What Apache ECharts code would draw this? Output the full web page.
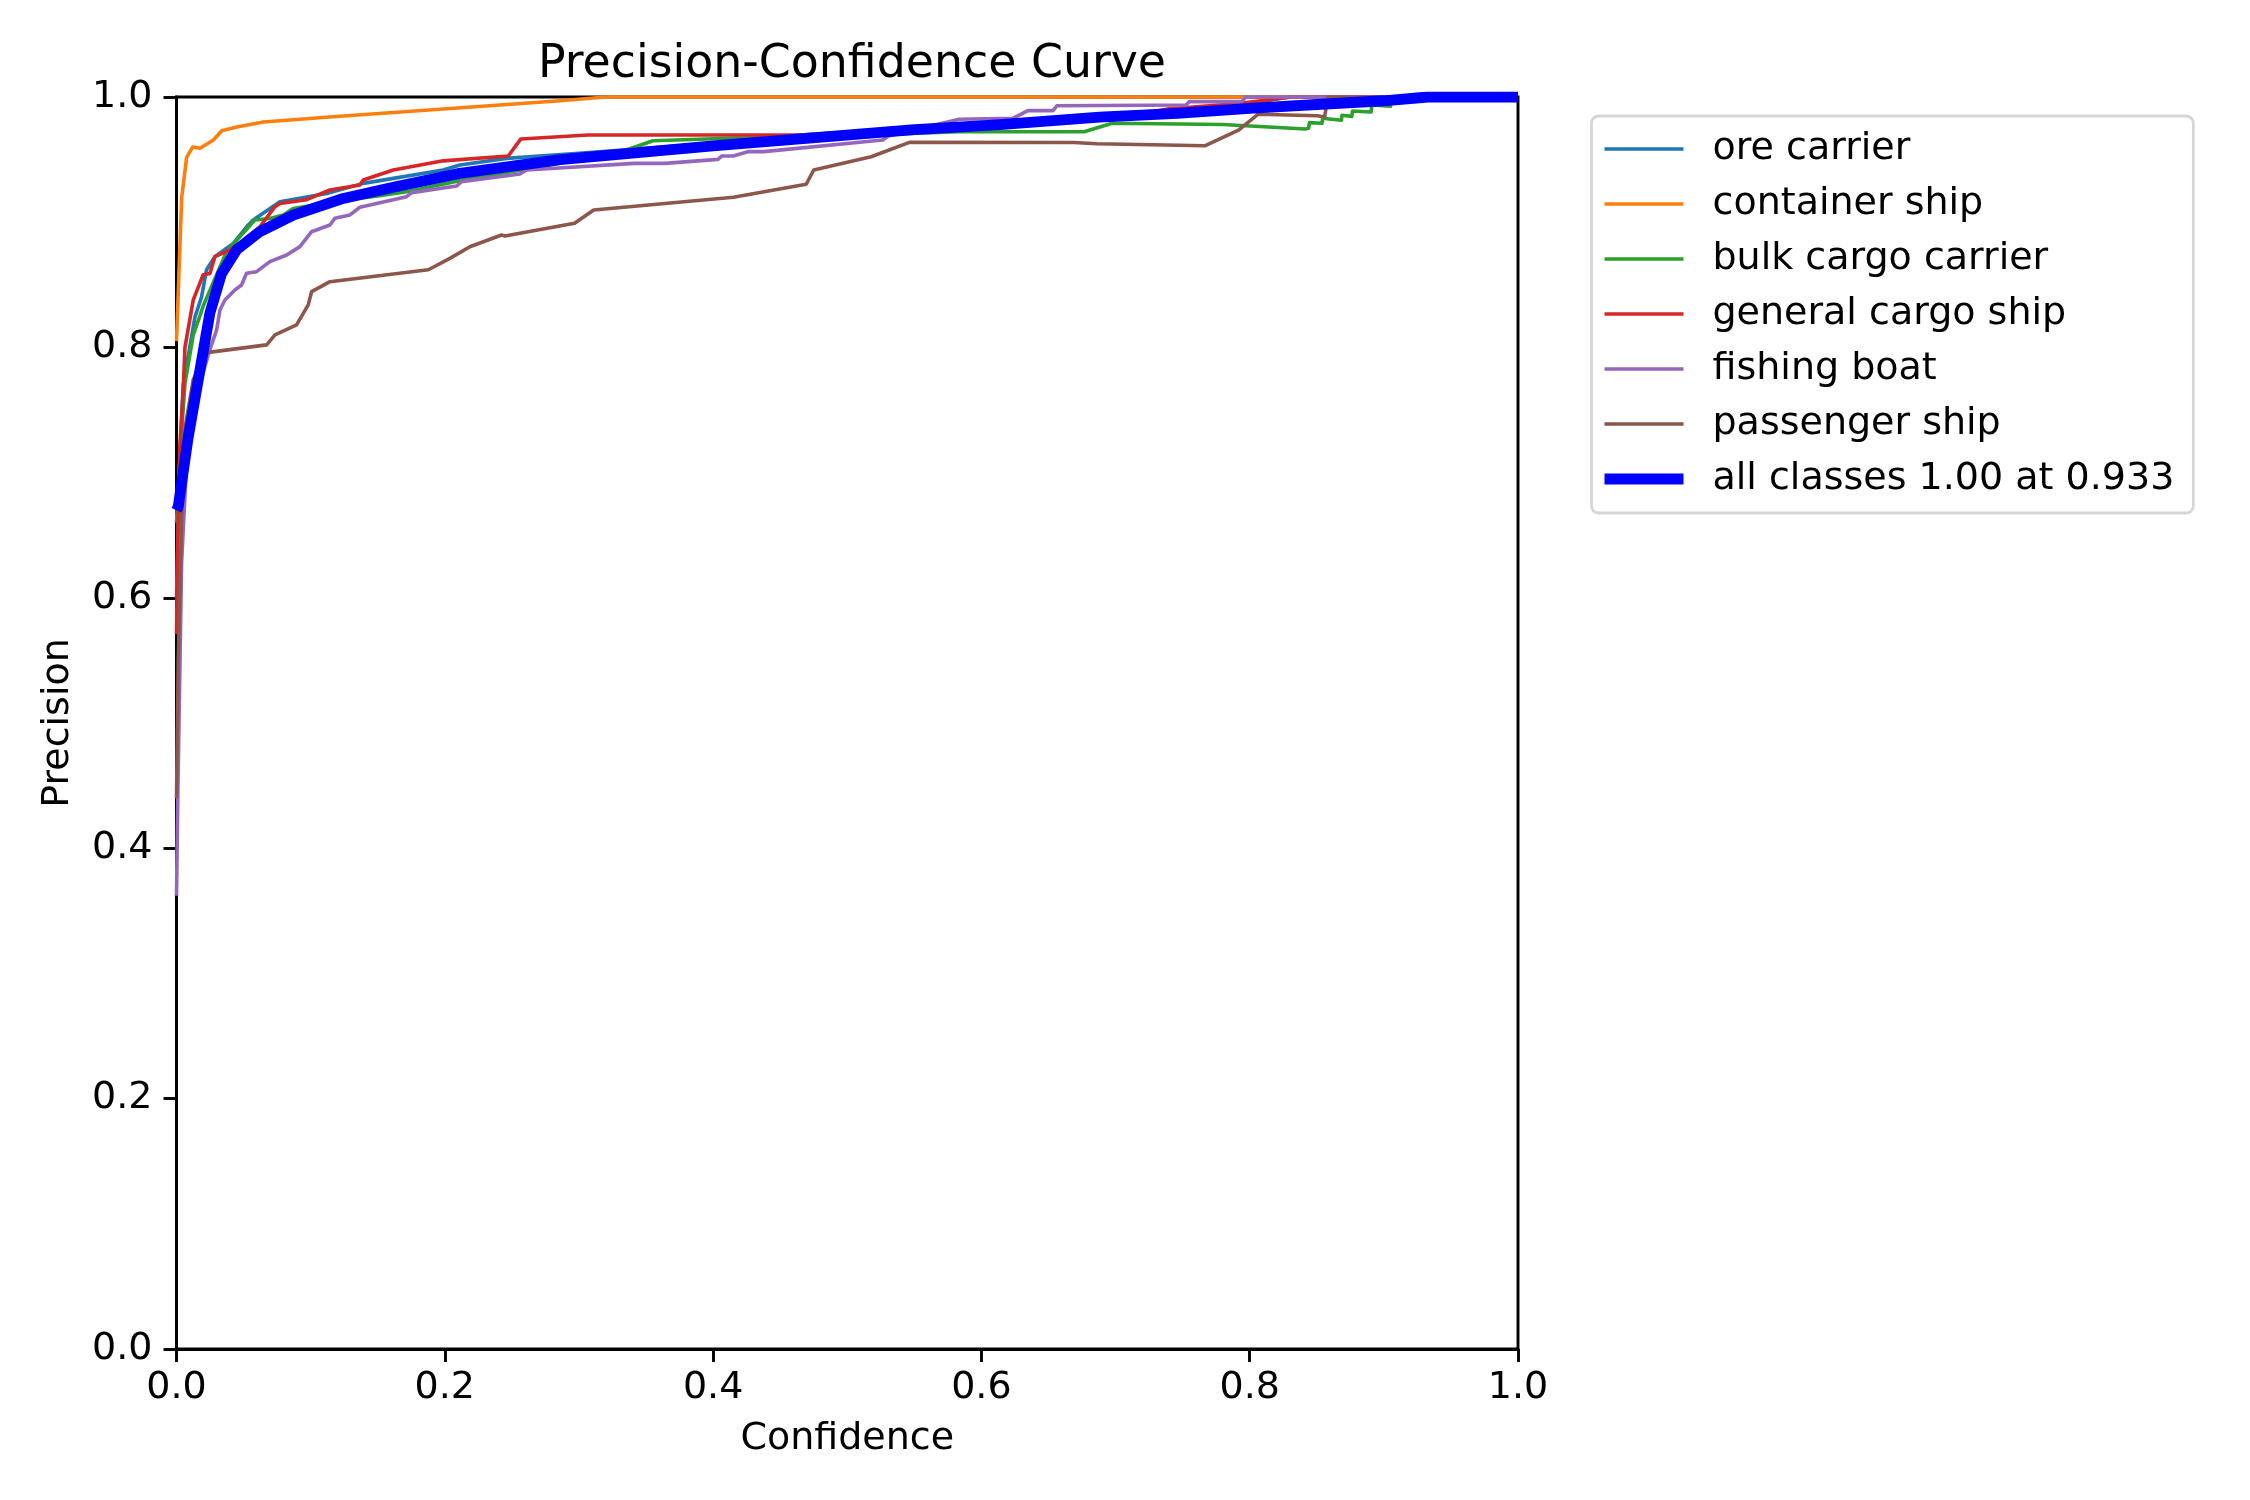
<!DOCTYPE html>
<html>
<head>
<meta charset="utf-8">
<script src="https://cdn.jsdelivr.net/npm/echarts@6/dist/echarts.min.js"></script>
<style>
html,body{margin:0;padding:0;background:#ffffff;}
#chart{width:2250px;height:1500px;}
</style>
</head>
<body>
<div id="chart"></div>
<script>
// ---------------- data ----------------
const chartTitle = 'Precision-Confidence Curve';
const xAxisName = 'Confidence';
const yAxisName = 'Precision';
const tickValues = [0.0, 0.2, 0.4, 0.6, 0.8, 1.0];

const seriesNames = ['ore carrier', 'container ship', 'bulk cargo carrier', 'general cargo ship', 'fishing boat', 'passenger ship', 'all classes 1.00 at 0.933'];

const oreCarrierConf = [0, 0.002, 0.005, 0.0137, 0.0187, 0.0224, 0.0286, 0.0423, 0.0535, 0.0572, 0.0771, 0.1119, 0.1392, 0.1616, 0.1988, 0.2113, 0.246, 0.3, 0.4, 0.47, 0.6, 0.72, 0.8, 0.83, 1.0];
const oreCarrierPrec = [0.6, 0.7, 0.77, 0.824, 0.8405, 0.862, 0.8725, 0.883, 0.8978, 0.9018, 0.9164, 0.923, 0.931, 0.935, 0.9417, 0.9457, 0.951, 0.955, 0.963, 0.97, 0.978, 0.986, 0.995, 1.0, 1.0];

const containerShipConf = [0.0, 0.0013, 0.0025, 0.0039, 0.0076, 0.012, 0.0175, 0.0275, 0.0337, 0.0449, 0.0647, 0.114, 0.286, 0.32, 1.0];
const containerShipPrec = [0.805, 0.806, 0.88, 0.92, 0.952, 0.96, 0.959, 0.9657, 0.973, 0.976, 0.98, 0.984, 0.997, 1.0, 1.0];

const bulkCargoConf = [0, 0.003, 0.0063, 0.0125, 0.0174, 0.0199, 0.0373, 0.0584, 0.0696, 0.0796, 0.087, 0.12, 0.15, 0.1715, 0.21, 0.24, 0.2694, 0.3353, 0.3552, 0.4123, 0.5, 0.5834, 0.6766, 0.6975, 0.78, 0.8414, 0.8439, 0.8445, 0.8539, 0.8544, 0.8683, 0.8688, 0.8761, 0.8766, 0.8905, 0.891, 0.905, 0.9055, 1.0];
const bulkCargoPrec = [0.66, 0.72, 0.771, 0.81, 0.825, 0.833, 0.8765, 0.9018, 0.903, 0.9058, 0.911, 0.917, 0.921, 0.9244, 0.933, 0.9388, 0.9438, 0.9577, 0.9651, 0.967, 0.969, 0.9723, 0.9723, 0.979, 0.978, 0.9745, 0.975, 0.9795, 0.979, 0.983, 0.9814, 0.9854, 0.9845, 0.9888, 0.988, 0.9936, 0.9926, 1.0, 1.0];

const generalCargoConf = [0, 0.0013, 0.0025, 0.005, 0.0063, 0.0125, 0.0199, 0.0249, 0.0286, 0.0373, 0.0522, 0.0622, 0.0734, 0.0771, 0.097, 0.1144, 0.1367, 0.1392, 0.1616, 0.1988, 0.2473, 0.2567, 0.3067, 0.469, 0.55, 0.62, 0.70, 0.74, 0.79, 0.8308, 1.0];
const generalCargoPrec = [0.571, 0.671, 0.721, 0.766, 0.8, 0.838, 0.858, 0.859, 0.8725, 0.8765, 0.8858, 0.8964, 0.9124, 0.915, 0.918, 0.9257, 0.9297, 0.9337, 0.9417, 0.949, 0.9529, 0.9665, 0.9696, 0.9696, 0.972, 0.977, 0.983, 0.9905, 0.9945, 1.0, 1.0];

const fishingBoatConf = [0, 0.001, 0.0038, 0.0075, 0.0174, 0.0244, 0.0299, 0.0324, 0.0361, 0.0435, 0.0485, 0.0522, 0.0597, 0.0696, 0.0821, 0.092, 0.1007, 0.1144, 0.118, 0.1293, 0.1367, 0.1715, 0.1753, 0.2088, 0.2125, 0.256, 0.261, 0.341, 0.364, 0.4036, 0.4065, 0.415, 0.4266, 0.4379, 0.5264, 0.5307, 0.5834, 0.6234, 0.6347, 0.6533, 0.6562, 0.7525, 0.7551, 0.7943, 0.797, 1.0];
const fishingBoatPrec = [0.362, 0.443, 0.628, 0.707, 0.771, 0.7966, 0.8139, 0.8299, 0.8379, 0.8458, 0.8498, 0.8592, 0.8605, 0.8685, 0.8738, 0.8805, 0.8924, 0.8978, 0.9031, 0.9058, 0.9119, 0.9204, 0.9236, 0.9289, 0.9324, 0.9385, 0.9417, 0.947, 0.947, 0.9502, 0.9529, 0.9529, 0.9564, 0.9564, 0.9657, 0.9689, 0.9822, 0.983, 0.9891, 0.9891, 0.993, 0.9936, 0.9963, 0.9963, 1.0, 1.0];

const passengerShipConf = [0, 0.0013, 0.0038, 0.0063, 0.0125, 0.0224, 0.0236, 0.0672, 0.0734, 0.0895, 0.0982, 0.1007, 0.1144, 0.1877, 0.2038, 0.2187, 0.2423, 0.2448, 0.2967, 0.311, 0.4151, 0.4694, 0.475, 0.5178, 0.5464, 0.669, 0.686, 0.7669, 0.7917, 0.8061, 0.8505, 0.8558, 0.8584, 1.0];
const passengerShipPrec = [0.44, 0.55, 0.6637, 0.735, 0.7744, 0.7958, 0.7953, 0.802, 0.81, 0.818, 0.834, 0.8445, 0.8525, 0.862, 0.8711, 0.8804, 0.8898, 0.889, 0.8991, 0.9097, 0.9199, 0.9303, 0.9417, 0.9523, 0.9638, 0.9636, 0.9627, 0.9611, 0.9736, 0.9862, 0.985, 0.984, 1.0, 1.0];

const allClassesConf = [0, 0.0013, 0.0087, 0.0249, 0.0336, 0.0448, 0.0622, 0.087, 0.1243, 0.1616, 0.211, 0.286, 0.4, 0.4694, 0.55, 0.614, 0.688, 0.746, 0.8, 0.85, 0.9, 0.933, 1.0];
const allClassesPrec = [0.67, 0.673, 0.728, 0.8275, 0.859, 0.878, 0.8925, 0.9057, 0.919, 0.928, 0.939, 0.950, 0.961, 0.967, 0.974, 0.978, 0.984, 0.987, 0.991, 0.994, 0.997, 1.0, 1.0];

const seriesConf = [oreCarrierConf, containerShipConf, bulkCargoConf, generalCargoConf, fishingBoatConf, passengerShipConf, allClassesConf];
const seriesPrec = [oreCarrierPrec, containerShipPrec, bulkCargoPrec, generalCargoPrec, fishingBoatPrec, passengerShipPrec, allClassesPrec];

// ---------------- styles ----------------
const colors = ['#1f77b4', '#ff7f0e', '#2ca02c', '#d62728', '#9467bd', '#8c564b', '#0000ff'];
const thinWidth = 3.6;
const thickWidth = 10.8;
const font = 'DejaVu Sans';
const fontSize = 38;

function pairs(xs, ys) { return xs.map((x, i) => [x, ys[i]]); }

// legend handle icons: a horizontal bar centred in a 79x16 box
const legendBoxW = 79, legendBoxH = 16;
function barIcon(h) {
  const y0 = (legendBoxH - h) / 2, y1 = y0 + h;
  return 'path://M0,0L0.01,0L0,0.01Z M' + legendBoxW + ',' + legendBoxH + 'L' + (legendBoxW - 0.01) + ',' + legendBoxH + 'L' + legendBoxW + ',' + (legendBoxH - 0.01) + 'Z ' +
    'M0,' + y0 + 'L' + legendBoxW + ',' + y0 + 'L' + legendBoxW + ',' + y1 + 'L0,' + y1 + 'Z';
}

const series = seriesNames.map((name, i) => ({
  name: name,
  type: 'line',
  data: pairs(seriesConf[i], seriesPrec[i]),
  showSymbol: false,
  symbol: 'none',
  clip: true,
  animation: false,
  z: 2 + i,
  lineStyle: {
    color: colors[i],
    width: i === 6 ? thickWidth : thinWidth,
    cap: 'butt',
    join: 'round'
  },
  itemStyle: { color: colors[i] },
  emphasis: { disabled: true }
}));

const axisCommon = {
  type: 'value',
  min: 0,
  max: 1,
  interval: 0.2,
  axisLine: { show: true, lineStyle: { color: '#000', width: 2.9 } },
  axisTick: { show: true, inside: false, length: 13, lineStyle: { color: '#000', width: 2.9 } },
  splitLine: { show: false },
  nameTextStyle: { color: '#000', fontFamily: font, fontSize: fontSize },
};

const tickFormatter = v => tickValues.find(t => Math.abs(t - v) < 1e-9) !== undefined ? v.toFixed(1) : '';

const chart = echarts.init(document.getElementById('chart'), null, { renderer: 'canvas' });
chart.setOption({
  backgroundColor: '#ffffff',
  animation: false,
  title: {
    text: chartTitle,
    left: 847,
    top: 37,
    textAlign: 'center',
    textStyle: { color: '#000', fontFamily: font, fontSize: 45.8, fontWeight: 'normal' }
  },
  grid: {
    left: 176.5, right: 2250 - 1518, top: 97, bottom: 1500 - 1349,
    show: true, borderColor: '#000', borderWidth: 2.9, backgroundColor: 'transparent',
    containLabel: false
  },
  xAxis: Object.assign({}, axisCommon, {
    name: xAxisName,
    nameLocation: 'middle',
    nameGap: 71,
    axisLabel: { color: '#000', fontFamily: font, fontSize: fontSize, margin: 20, formatter: tickFormatter }
  }),
  yAxis: Object.assign({}, axisCommon, {
    name: yAxisName,
    nameLocation: 'middle',
    nameGap: 99,
    nameRotate: 90,
    axisLabel: { color: '#000', fontFamily: font, fontSize: fontSize, margin: 24, formatter: tickFormatter }
  }),
  legend: {
    orient: 'vertical',
    left: 1591.5,
    top: 116,
    padding: [12, 19, 13, 13],
    itemWidth: legendBoxW,
    itemHeight: legendBoxH,
    itemGap: 13,
    borderColor: '#d6d6d6',
    borderWidth: 2.78,
    borderRadius: 7,
    backgroundColor: 'rgba(255,255,255,0.8)',
    textStyle: { color: '#000', fontFamily: font, fontSize: fontSize, lineHeight: 42, padding: [0, 0, 0, 24] },
    data: seriesNames.map((n, i) => ({
      name: n,
      icon: barIcon(i === 6 ? thickWidth : thinWidth),
      itemStyle: { color: colors[i] }
    })),
    selectedMode: false
  },
  series: series
});
</script>
</body>
</html>
